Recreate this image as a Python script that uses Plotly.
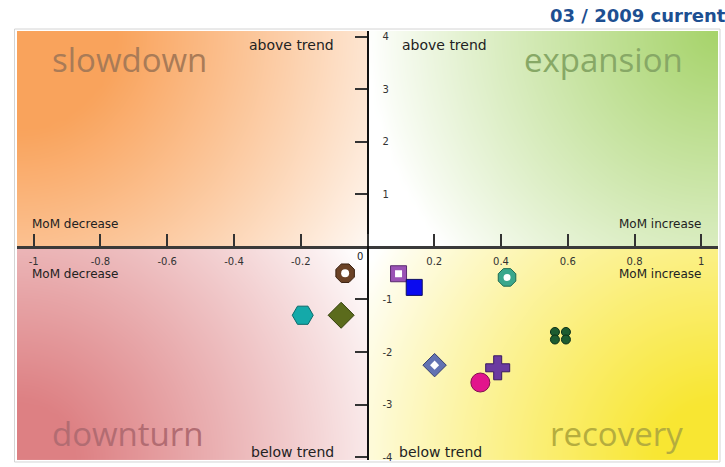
import numpy as np
import plotly.graph_objects as go

# ---- data -------------------------------------------------------------
# month-on-month change (x) against deviation from trend (y), one marker each
mom_change = [-0.067, 0.093, 0.140, 0.418, -0.194, -0.079, 0.578, 0.201, 0.390, 0.338]
trend_dev = [-0.50, -0.51, -0.77, -0.58, -1.30, -1.30, -1.69, -2.25, -2.30, -2.58]

x_ticks = [-1, -0.8, -0.6, -0.4, -0.2, 0, 0.2, 0.4, 0.6, 0.8, 1]
x_tick_labels = ["-1", "-0.8", "-0.6", "-0.4", "-0.2", "", "0.2", "0.4", "0.6", "0.8", "1"]
y_ticks = [-4, -3, -2, -1, 1, 2, 3, 4]
y_tick_labels = ["-4", "-3", "-2", "-1", "1", "2", "3", "4"]
origin_label = "0"

phase_names = ["slowdown", "expansion", "downturn", "recovery"]
period_label = "03 / 2009 current"

# ---- styles -----------------------------------------------------------
marker_colors = ["#6b4226", "#9a52b5", "#0a0af0", "#3aa78c", "#14a9a9",
                 "#5b6b1c", "#1d5c30", "#6272b2", "#6b3ba0", "#e2148c"]
marker_lines = ["#3a2010", "#5a2a70", "#101060", "#1f6a52", "#0a6a6a",
                "#333f0a", "#0c3018", "#343e70", "#3a1a60", "#80104f"]
marker_symbols = ["octagon", "square", "square", "octagon", "hexagon2",
                  "diamond", "dots", "diamond", "cross", "circle"]
marker_sizes = [20, 16, 16, 19, 21, 20, 9, 18, 20, 19]
core_symbols = ["circle", "square", None, "circle", None, None, None, "diamond", None, None]
core_sizes = [8, 7, 0, 7, 0, 0, 0, 7, 0, 0]

W, H = 725, 467
MARGIN = dict(l=17, r=7, t=31, b=4)
X_RANGE = [-1.05, 1.05]
Y_RANGE = [-4.055, 4.11]
plot_w = W - MARGIN["l"] - MARGIN["r"]
plot_h = H - MARGIN["t"] - MARGIN["b"]
px_x = plot_w / (X_RANGE[1] - X_RANGE[0])
px_y = plot_h / (Y_RANGE[1] - Y_RANGE[0])

fig = go.Figure()

# ---- quadrant backgrounds: colour strongest in the outer corner -------
# (x side, y side, colour, solid radius px, fade radius px)
quadrants = [
    (-1, 1, "#f9a35c", 100, 430),
    (1, 1, "#a6d36a", 0, 350),
    (-1, -1, "#dd8083", 60, 400),
    (1, -1, "#f8e632", 60, 400),
]
for sx, sy, col, r0, r1 in quadrants:
    xa, xb = (X_RANGE[0], 0.0) if sx < 0 else (0.0, X_RANGE[1])
    ya, yb = (0.0, Y_RANGE[1]) if sy > 0 else (Y_RANGE[0], 0.0)
    nx, ny = 40, 26
    dx, dy = (xb - xa) / nx, (yb - ya) / ny
    xc = xa + dx * (np.arange(nx) + 0.5)
    yc = ya + dy * (np.arange(ny) + 0.5)
    XX, YY = np.meshgrid(xc, yc)
    cx = xa if sx < 0 else xb
    cy = yb if sy > 0 else ya
    dist = np.hypot((XX - cx) * px_x, (YY - cy) * px_y)
    t = np.clip((r1 - dist) / (r1 - r0), 0, 1) ** 0.9
    fig.add_trace(go.Heatmap(
        z=t, x0=xa + dx / 2, dx=dx, y0=ya + dy / 2, dy=dy,
        zmin=0, zmax=1, zsmooth="best", showscale=False, hoverinfo="skip",
        colorscale=[[0, "#ffffff"], [1, col]],
    ))

# ---- markers ----------------------------------------------------------
for i, (x, y) in enumerate(zip(mom_change, trend_dev)):
    if marker_symbols[i] == "dots":
        # four small dots in a 2x2 block around the point
        ox, oy = 5.5 / px_x, 3.8 / px_y
        xs = [x - ox, x + ox, x - ox, x + ox]
        ys = [y + oy, y + oy, y - oy, y - oy]
        fig.add_trace(go.Scatter(
            x=xs, y=ys, mode="markers", hoverinfo="skip",
            marker=dict(symbol="circle", size=marker_sizes[i], color=marker_colors[i],
                        line=dict(color=marker_lines[i], width=1)),
        ))
        continue
    fig.add_trace(go.Scatter(
        x=[x], y=[y], mode="markers", hoverinfo="skip",
        marker=dict(symbol=marker_symbols[i], size=marker_sizes[i], color=marker_colors[i],
                    line=dict(color=marker_lines[i], width=1)),
    ))
    if core_symbols[i]:
        fig.add_trace(go.Scatter(
            x=[x], y=[y], mode="markers", hoverinfo="skip",
            marker=dict(symbol=core_symbols[i], size=core_sizes[i], color="#ffffff",
                        line=dict(width=0)),
        ))

# ---- text labels ------------------------------------------------------
annotations = []
phase_font = dict(family="Open Sans", size=33)
phase_spec = [
    (-0.951, 3.56, "left", "#a97b57"),
    (0.952, 3.56, "right", "#87a866"),
    (-0.951, -3.56, "left", "#b26c72"),
    (0.952, -3.56, "right", "#b5ad3e"),
]
for name, (x, y, anchor, col) in zip(phase_names, phase_spec):
    annotations.append(dict(x=x, y=y, xref="x", yref="y", text=name, showarrow=False,
                            xanchor=anchor, yanchor="middle",
                            font=dict(color=col, **phase_font)))

trend_font = dict(family="DejaVu Sans", size=14, color="#222222")
for x, y, anchor, txt in [
    (-0.094, 3.85, "right", "above trend"), (0.098, 3.85, "left", "above trend"),
    (-0.094, -3.90, "right", "below trend"), (0.089, -3.90, "left", "below trend"),
]:
    annotations.append(dict(x=x, y=y, xref="x", yref="y", text=txt, showarrow=False,
                            xanchor=anchor, yanchor="middle", font=trend_font))

mom_font = dict(family="DejaVu Sans", size=12, color="#222222")
for x, y, anchor, txt in [
    (-1.011, 0.44, "left", "MoM decrease"), (-1.011, -0.52, "left", "MoM decrease"),
    (1.006, 0.44, "right", "MoM increase"), (1.006, -0.52, "right", "MoM increase"),
]:
    annotations.append(dict(x=x, y=y, xref="x", yref="y", text=txt, showarrow=False,
                            xanchor=anchor, yanchor="middle", font=mom_font))

# origin label in the tick-label row, just left of the vertical axis
annotations.append(dict(
    x=(0 - X_RANGE[0]) / (X_RANGE[1] - X_RANGE[0]) - 8 / plot_w,
    y=(0 - Y_RANGE[0]) / (Y_RANGE[1] - Y_RANGE[0]) - 10 / plot_h,
    xref="paper", yref="paper", text=origin_label, showarrow=False,
    xanchor="center", yanchor="middle",
    font=dict(family="DejaVu Sans", size=10, color="#222222"),
))

annotations.append(dict(
    x=(W + 3 - MARGIN["l"]) / plot_w, y=(H - MARGIN["b"] - 15) / plot_h,
    xref="paper", yref="paper", text="<b>" + period_label + "</b>", showarrow=False,
    xanchor="right", yanchor="middle",
    font=dict(family="DejaVu Sans", size=18, color="#1d4f91"),
))

# ---- axes crossing at the origin -------------------------------------
x_pos = (0 - Y_RANGE[0]) / (Y_RANGE[1] - Y_RANGE[0])
y_pos = (0 - X_RANGE[0]) / (X_RANGE[1] - X_RANGE[0])

fig.update_layout(
    width=W, height=H, margin=MARGIN,
    paper_bgcolor="#ffffff", plot_bgcolor="#ffffff",
    showlegend=False,
    annotations=annotations,
    xaxis=dict(
        range=X_RANGE, anchor="free", position=x_pos, side="bottom",
        showgrid=False, zeroline=False, showline=True, linecolor="#3a3a3a", linewidth=3,
        ticks="inside", ticklen=12, tickwidth=2, tickcolor="#333333",
        tickvals=x_ticks, ticktext=x_tick_labels, ticklabelstandoff=4,
        tickfont=dict(family="DejaVu Sans", size=10, color="#333333"),
        fixedrange=True,
    ),
    yaxis=dict(
        range=Y_RANGE, anchor="free", position=y_pos, side="right",
        showgrid=False, zeroline=False, showline=True, linecolor="#111111", linewidth=2,
        ticks="inside", ticklen=12, tickwidth=2, tickcolor="#333333",
        tickvals=y_ticks, ticktext=y_tick_labels, ticklabelstandoff=12,
        tickfont=dict(family="DejaVu Sans", size=10, color="#333333"),
        fixedrange=True,
    ),
    shapes=[dict(
        type="rect", xref="paper", yref="paper", layer="below",
        x0=-2.5 / plot_w, x1=1 + 2 / plot_w, y0=-2 / plot_h, y1=1 + 2 / plot_h,
        line=dict(color="#d4d4d4", width=1), fillcolor="rgba(0,0,0,0)",
    )],
)

fig.write_html("out.html")
